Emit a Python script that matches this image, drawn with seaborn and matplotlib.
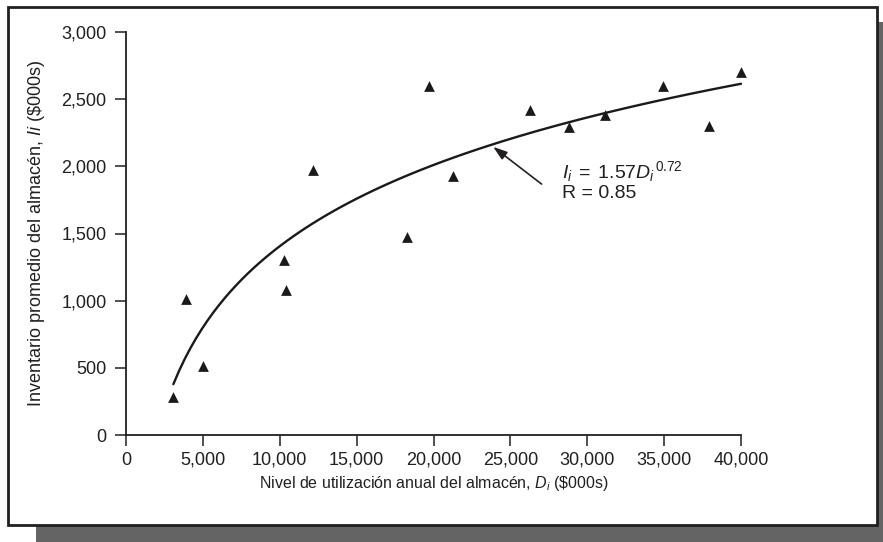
import matplotlib
matplotlib.use("Agg")
import matplotlib.pyplot as plt
from matplotlib.patches import Rectangle
import pandas as pd
import seaborn as sns

# Annual warehouse throughput vs. average warehouse inventory ($000s)
annual_throughput = [3080, 3900, 5000, 10250, 10400, 12150, 18300, 19700,
                     21300, 26300, 28800, 31150, 34900, 37900, 40000]
avg_inventory = [285, 1010, 510, 1300, 1080, 1970, 1475, 2600,
                 1930, 2420, 2290, 2380, 2600, 2300, 2700]

x_ticks = [0, 5000, 10000, 15000, 20000, 25000, 30000, 35000, 40000]
x_tick_labels = ["0", "5,000", "10,000", "15,000", "20,000",
                 "25,000", "30,000", "35,000", "40,000"]
y_ticks = [0, 500, 1000, 1500, 2000, 2500, 3000]
y_tick_labels = ["0", "500", "1,000", "1,500", "2,000", "2,500", "3,000"]

x_label = r"Nivel de utilización anual del almacén, $D_i$ (\$000s)"
y_label = r"Inventario promedio del almacén, $Ii$ (\$000s)"
fit_equation = r"$I_i\;=\;1.57{D_i}^{\,0.72}$"
fit_r = "R = 0.85"

sns.set_theme(style="ticks")
plt.rcParams["font.family"] = ["Liberation Sans", "DejaVu Sans"]
plt.rcParams["mathtext.fontset"] = "custom"
plt.rcParams["mathtext.rm"] = "Liberation Sans"
plt.rcParams["mathtext.it"] = "Liberation Sans:italic"
plt.rcParams["mathtext.bf"] = "Liberation Sans:bold"
plt.rcParams["mathtext.sf"] = "Liberation Sans"

ink = "#231f20"

df = pd.DataFrame({"throughput": annual_throughput, "inventory": avg_inventory})

fig = plt.figure(figsize=(8.83, 5.42), dpi=100, facecolor="white")

# Boxed panel with an offset drop shadow
W, H = 883.0, 542.0
shadow = Rectangle((36 / W, 1 - 552 / H), (895 - 36) / W, (552 - 22) / H,
                   transform=fig.transFigure, facecolor="#646464",
                   edgecolor="none", zorder=-10)
panel = Rectangle((8 / W, 1 - 525 / H), (877 - 8) / W, (525 - 7) / H,
                  transform=fig.transFigure, facecolor="white",
                  edgecolor=ink, linewidth=2.0, zorder=-9)
fig.add_artist(shadow)
fig.add_artist(panel)

ax = fig.add_axes([126 / W, 1 - 435 / H, (741 - 126) / W, (435 - 32) / H])
ax.patch.set_alpha(0)

sns.regplot(data=df, x="throughput", y="inventory", logx=True, ci=None,
            marker="^", ax=ax,
            scatter_kws=dict(s=60, color="#1a1a1a", linewidths=0, alpha=1,
                             clip_on=False, zorder=3),
            line_kws=dict(color="#1a1a1a", lw=1.7, clip_on=False))

ax.set_xlim(0, 40000)
ax.set_ylim(0, 3000)
ax.set_xticks(x_ticks)
ax.set_xticklabels(x_tick_labels)
ax.set_yticks(y_ticks)
ax.set_yticklabels(y_tick_labels)
sns.despine(ax=ax)
for side in ("left", "bottom"):
    ax.spines[side].set_color(ink)
    ax.spines[side].set_linewidth(1.3)
ax.tick_params(axis="both", direction="out", length=8, width=1.1,
               color=ink, labelcolor=ink, labelsize=13)
ax.tick_params(axis="x", pad=4)
ax.tick_params(axis="y", pad=6)

ax.set_xlabel(x_label, fontsize=11.5, color=ink, labelpad=4)
ax.set_ylabel(y_label, fontsize=13, color=ink, labelpad=10)

# Fitted-curve callout
ax.annotate("", xy=(23880, 2145), xytext=(27030, 1868),
            arrowprops=dict(arrowstyle="-|>,head_length=0.6,head_width=0.2",
                            mutation_scale=14, lw=1.2, color=ink,
                            shrinkA=0, shrinkB=0))
ax.text(28350, 1959, fit_equation, fontsize=14, color=ink,
        ha="left", va="center")
ax.text(28350, 1798, fit_r, fontsize=14, color=ink,
        ha="left", va="center")

fig.savefig("out.png", dpi=100, facecolor="white")
